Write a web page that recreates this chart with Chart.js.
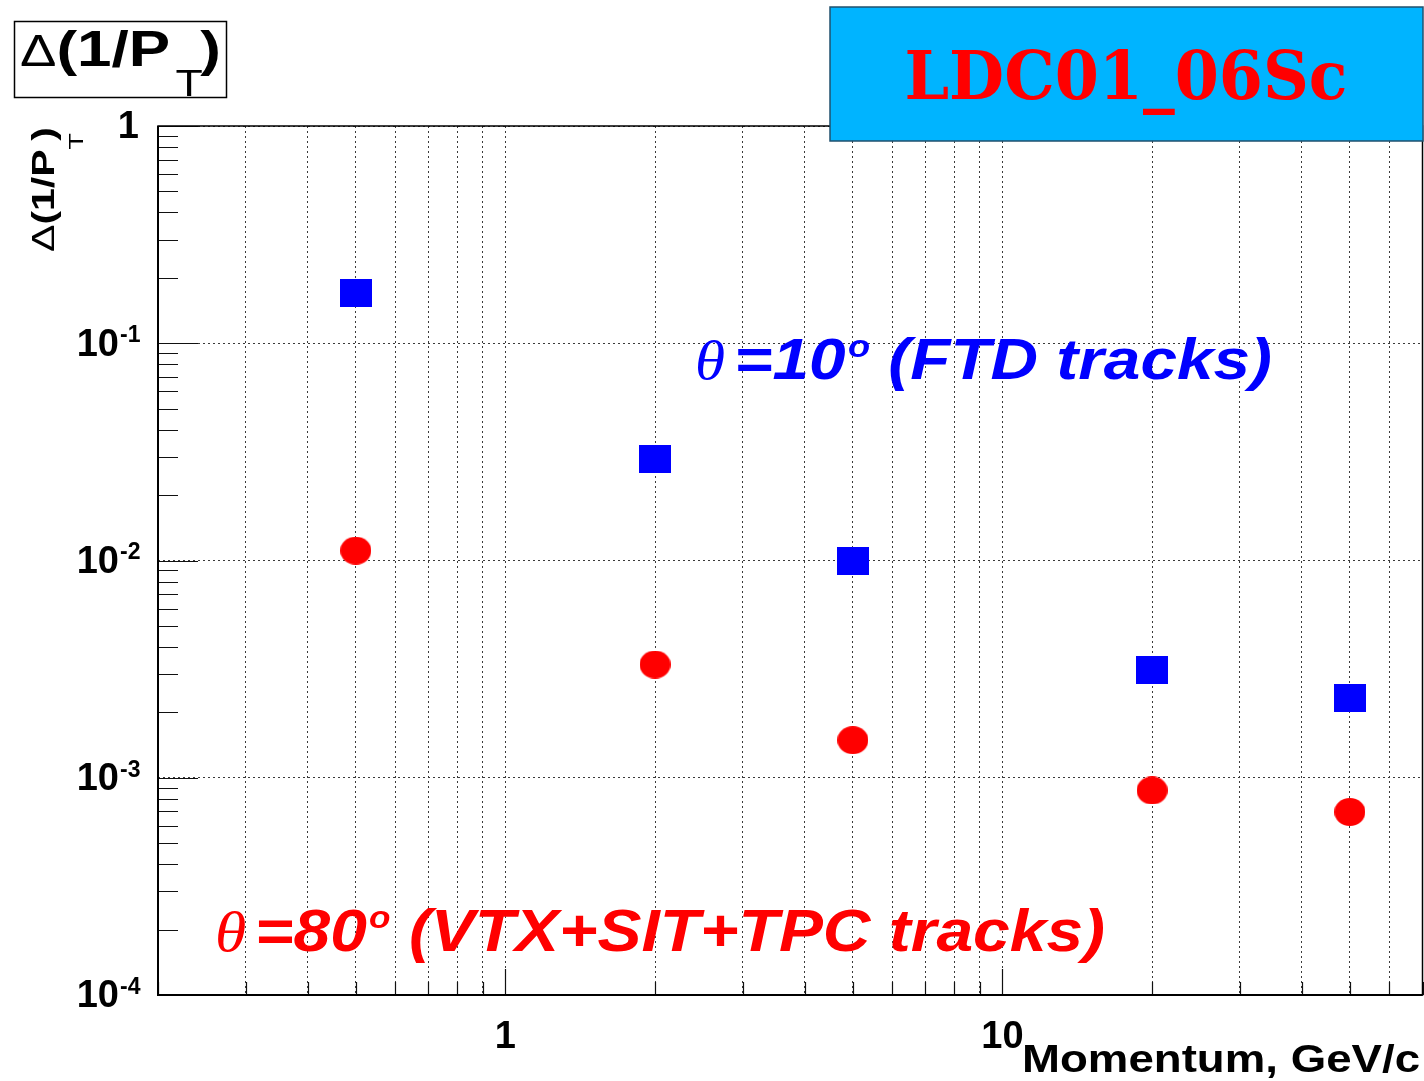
<!DOCTYPE html>
<html><head><meta charset="utf-8">
<script src="https://cdn.jsdelivr.net/npm/chart.js@4.4.0/dist/chart.umd.min.js"></script>
<style>html,body{margin:0;padding:0;background:#fff;}canvas{display:block;}</style>
</head><body>
<canvas id="c" width="1424" height="1081"></canvas>
<script>
// Momentum resolution vs. track momentum for two polar angles
const momentum = [0.5, 2, 5, 20, 50];                              // GeV/c
const resFTD = [0.171, 0.0293, 0.0100, 0.00313, 0.00232];          // theta = 10 deg
const resBarrel = [0.0111, 0.00332, 0.00149, 0.000874, 0.000696];  // theta = 80 deg

const xGridValues = [0.2, 0.3, 0.4, 0.5, 0.6, 0.7, 0.8, 0.9, 1, 2, 3, 4, 5, 6, 7, 8, 9, 10, 20, 30, 40, 50, 60, 70];
const xLabelValues = [1, 10];
const xLabelTexts = ['1', '10'];
const yDecades = [1, 1e-1, 1e-2, 1e-3, 1e-4];
const yLabelExponents = [0, -1, -2, -3, -4];
const xAxisTitle = 'Momentum, GeV/c';
const detectorName = 'LDC01_06Sc';

const SANS = '"Liberation Sans", Arial, sans-serif';
const SERIF = '"Liberation Serif", "Times New Roman", serif';
const BLUE = '#0000ff';
const RED = '#ff0000';

function markerCanvas(w, h, color, round) {
  const c = document.createElement('canvas');
  c.width = w; c.height = h;
  const g = c.getContext('2d');
  g.fillStyle = color;
  if (round) { g.beginPath(); g.ellipse(w / 2, h / 2, w / 2, h / 2, 0, 0, Math.PI * 2); g.fill(); }
  else g.fillRect(0, 0, w, h);
  return c;
}
const squareMarker = markerCanvas(32, 28, BLUE, false);
const circleMarker = markerCanvas(31, 28, RED, true);

function font(r) { return `${r.style || 'normal'} ${r.weight || 'normal'} ${r.size}px ${r.family || SANS}`; }

// draws a sequence of text runs, optionally stretched to a given width
function drawRuns(ctx, runs, x, y, width, rotate) {
  ctx.save();
  ctx.translate(x, y);
  if (rotate) ctx.rotate(rotate);
  let total = 0;
  const widths = runs.map(r => { ctx.font = font(r); const w = ctx.measureText(r.t).width + (r.kern || 0); total += w; return w; });
  const sx = width ? width / total : 1;
  ctx.scale(sx, 1);
  ctx.textBaseline = 'alphabetic';
  ctx.textAlign = 'left';
  let cx = 0;
  runs.forEach((r, i) => {
    ctx.font = font(r);
    ctx.fillStyle = r.color || '#000';
    ctx.fillText(r.t, cx, r.dy || 0);
    cx += widths[i];
  });
  ctx.restore();
}

const decorations = {
  id: 'decorations',
  beforeDatasetsDraw(chart) {
    const { ctx, chartArea: a, scales: { x, y } } = chart;
    ctx.save();
    // tick marks drawn inwards from the axes
    ctx.strokeStyle = '#111';
    ctx.lineWidth = 1.2;
    ctx.beginPath();
    xGridValues.forEach(v => {
      const px = Math.round(x.getPixelForValue(v)) + 0.5;
      const len = xLabelValues.includes(v) ? 26 : 13;
      ctx.moveTo(px, a.bottom); ctx.lineTo(px, a.bottom - len);
    });
    yDecades.forEach(d => {
      const py = Math.round(y.getPixelForValue(d)) + 0.5;
      ctx.moveTo(a.left, py); ctx.lineTo(a.left + 40, py);
      for (let m = 2; m <= 9; m++) {
        const v = m * d;
        if (v > 1) continue;
        const pm = Math.round(y.getPixelForValue(v)) + 0.5;
        ctx.moveTo(a.left, pm); ctx.lineTo(a.left + 20, pm);
      }
    });
    ctx.stroke();
    // frame
    ctx.strokeStyle = '#000';
    ctx.lineWidth = 1.5;
    ctx.strokeRect(a.left, a.top, a.right - a.left, a.bottom - a.top);
    ctx.lineWidth = 2;
    ctx.beginPath();
    ctx.moveTo(a.left, a.top); ctx.lineTo(a.left, a.bottom); ctx.lineTo(a.right, a.bottom);
    ctx.stroke();
    ctx.restore();

    // in-plot annotations
    drawRuns(ctx, [
      { t: '\u03B8', size: 54, style: 'italic', family: SERIF, color: BLUE, kern: 8 },
      { t: '=10', size: 58, style: 'italic', weight: 'bold', color: BLUE, kern: 2 },
      { t: 'o', size: 32, style: 'italic', weight: 'bold', dy: -22, color: BLUE },
      { t: ' (FTD tracks)', size: 58, style: 'italic', weight: 'bold', color: BLUE }
    ], 695, 379, 577);
    drawRuns(ctx, [
      { t: '\u03B8', size: 58, style: 'italic', family: SERIF, color: RED, kern: 8 },
      { t: '=80', size: 60, style: 'italic', weight: 'bold', color: RED, kern: 2 },
      { t: 'o', size: 32, style: 'italic', weight: 'bold', dy: -23, color: RED },
      { t: ' (VTX+SIT+TPC tracks)', size: 60, style: 'italic', weight: 'bold', color: RED }
    ], 215, 951, 890);
  },
  afterDraw(chart) {
    const { ctx, scales: { x, y } } = chart;
    ctx.save();
    // y tick labels as powers of ten
    yLabelExponents.forEach(e => {
      const py = y.getPixelForValue(Math.pow(10, e));
      ctx.fillStyle = '#000';
      ctx.textBaseline = 'middle';
      ctx.textAlign = 'right';
      ctx.font = `bold 38px ${SANS}`;
      if (e === 0) {
        ctx.fillText('1', 139, py + 2);
      } else {
        ctx.fillText('10', 119, py + 2);
        ctx.textAlign = 'left';
        ctx.textBaseline = 'top';
        ctx.font = `bold 23px ${SANS}`;
        ctx.fillText(String(e), 120, py - 19);
      }
    });
    // x tick labels
    ctx.textAlign = 'center';
    ctx.textBaseline = 'middle';
    ctx.font = `bold 38px ${SANS}`;
    xLabelValues.forEach((v, i) => ctx.fillText(xLabelTexts[i], x.getPixelForValue(v), 1038));
    ctx.restore();
    // x axis title, right aligned to the canvas edge
    drawRuns(ctx, [{ t: xAxisTitle, size: 38, weight: 'bold' }], 1022, 1072, 398);

    // y axis title, rotated
    drawRuns(ctx, [
      { t: '\u0394', size: 32 },
      { t: '(1/P', size: 32, weight: 'bold' },
      { t: 'T', size: 21, dy: 29, kern: -6 },
      { t: ')', size: 32, weight: 'bold' }
    ], 54, 252, 125, -Math.PI / 2);

    // histogram title box
    ctx.save();
    ctx.fillStyle = '#fff';
    ctx.fillRect(14, 21, 213, 77);
    ctx.strokeStyle = '#000';
    ctx.lineWidth = 1.5;
    ctx.strokeRect(14.5, 21.5, 212, 76);
    ctx.restore();
    drawRuns(ctx, [
      { t: '\u0394', size: 44 },
      { t: '(1/P', size: 50, weight: 'bold' },
      { t: ' ', size: 16 },
      { t: 'T', size: 36, dy: 30, kern: -2 },
      { t: ')', size: 50, weight: 'bold' }
    ], 20, 66, 201);

    // detector label box
    ctx.save();
    ctx.fillStyle = '#00b4ff';
    ctx.fillRect(830, 7, 593, 134);
    ctx.strokeStyle = '#20506e';
    ctx.lineWidth = 1.5;
    ctx.strokeRect(830, 7, 593, 134);
    ctx.restore();
    ctx.save();
    ctx.font = `bold 68px "DejaVu Serif", serif`;
    const lw = ctx.measureText(detectorName).width;
    ctx.translate(1126, 99);
    ctx.scale(443 / lw, 1);
    ctx.textAlign = 'center';
    ctx.textBaseline = 'alphabetic';
    ctx.fillStyle = RED;
    ctx.fillText(detectorName, 0, 0);
    ctx.restore();
  }
};

const gridStyle = { color: '#3a3a3a', lineWidth: 1, drawTicks: false };

new Chart(document.getElementById('c'), {
  type: 'scatter',
  data: {
    datasets: [
      { label: 'FTD', data: momentum.map((m, i) => ({ x: m, y: resFTD[i] })), pointStyle: squareMarker, backgroundColor: BLUE, borderColor: BLUE },
      { label: 'VTX+SIT+TPC', data: momentum.map((m, i) => ({ x: m, y: resBarrel[i] })), pointStyle: circleMarker, backgroundColor: RED, borderColor: RED }
    ]
  },
  options: {
    responsive: false,
    animation: false,
    devicePixelRatio: 1,
    layout: { autoPadding: false, padding: { left: 158, top: 126, right: 1.5, bottom: 86 } },
    plugins: { legend: { display: false }, tooltip: { enabled: false } },
    scales: {
      x: {
        type: 'logarithmic', min: 0.2, max: 70,
        afterBuildTicks: s => { s.ticks = xGridValues.map(v => ({ value: v })); },
        ticks: { display: false },
        grid: gridStyle,
        border: { display: false, dash: [2, 3] }
      },
      y: {
        type: 'logarithmic', min: 1e-4, max: 1,
        afterBuildTicks: s => { s.ticks = yDecades.map(v => ({ value: v })); },
        ticks: { display: false },
        grid: gridStyle,
        border: { display: false, dash: [2, 3] }
      }
    }
  },
  plugins: [decorations]
});
</script>
</body></html>
